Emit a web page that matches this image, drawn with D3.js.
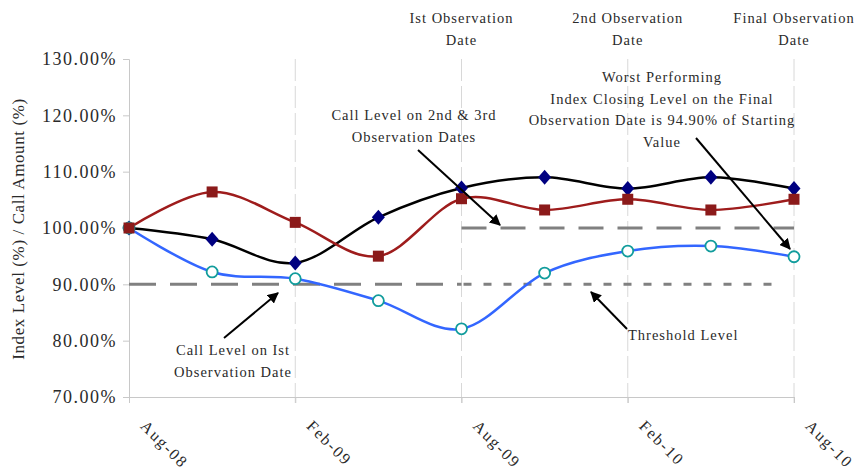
<!DOCTYPE html>
<html><head><meta charset="utf-8">
<script src="https://cdn.jsdelivr.net/npm/d3@7"></script>
<style>
html,body{margin:0;padding:0;background:#fff;}
svg{display:block;font-family:"Liberation Serif","Times New Roman",serif;}
</style></head>
<body><svg id="c" width="859" height="472"></svg>
<script>
const periods = ["Aug-08","Nov-08","Feb-09","May-09","Aug-09","Nov-09","Feb-10","May-10","Aug-10"];
const tickLabels = ["Aug-08","Feb-09","Aug-09","Feb-10","Aug-10"];
const yTicks = [70,80,90,100,110,120,130];
const indexA = [100,98,93.8,101.9,107.1,109,107,109,107];     // black / diamonds
const indexB = [100,106.4,101,95,105.2,103.2,105.1,103.2,105.1]; // red / squares
const indexC = [100,92.2,91,87.1,82.1,92,95.9,96.8,94.9];     // blue / circles
const threshold = 90;
const callLevel2 = 100;
const topLabels = [["Ist Observation","Date","Aug-09"],["2nd Observation","Date","Feb-10"],["Final Observation","Date","Aug-10"]];

const svg = d3.select("#c");
const x = d3.scalePoint().domain(periods).range([129,794]);
const y = d3.scaleLinear().domain([70,130]).range([397,59]);
const txt = "#2a2a2a";

// vertical gridlines
svg.append("g").selectAll("line").data(tickLabels.slice(1)).join("line")
  .attr("x1",d=>x(d)).attr("x2",d=>x(d)).attr("y1",y(130)).attr("y2",y(70)+6)
  .attr("stroke","#d8d8d8").attr("stroke-width",1).attr("stroke-dasharray","22,5");

// axes
const yAxis = svg.append("g").attr("transform",`translate(${x(periods[0])},0)`)
  .call(d3.axisLeft(y).tickValues(yTicks).tickSize(6).tickPadding(6).tickFormat(d=>d.toFixed(2)+"%"));
yAxis.select(".domain").attr("stroke","#c8c8c8");
yAxis.selectAll(".tick line").attr("stroke","#c8c8c8");
yAxis.selectAll("text").attr("font-size",18).attr("fill",txt).attr("letter-spacing","1.5px")
  .attr("font-family","Liberation Serif, serif");

const xAxis = svg.append("g").attr("transform",`translate(0,${y(70)})`)
  .call(d3.axisBottom(x).tickValues(tickLabels).tickSize(6).tickFormat(d=>d));
xAxis.select(".domain").attr("stroke","#c8c8c8");
xAxis.selectAll(".tick line").attr("stroke","#c8c8c8");
xAxis.selectAll("text").attr("font-size",16).attr("fill",txt).attr("letter-spacing","1.8px")
  .attr("font-family","Liberation Serif, serif")
  .attr("text-anchor","start").attr("dy",0).attr("y",0)
  .attr("transform","translate(10,30) rotate(45)");

// y title
svg.append("text").attr("transform",`translate(24,229) rotate(-90)`)
  .attr("text-anchor","middle").attr("font-size",17).attr("fill",txt).attr("letter-spacing","0.6px")
  .text("Index Level (%) / Call Amount (%)");

// dashed reference lines
svg.append("line").attr("x1",x("Aug-08")).attr("x2",x("Aug-09")).attr("y1",y(threshold)).attr("y2",y(threshold))
  .attr("stroke","#808080").attr("stroke-width",3).attr("stroke-dasharray","27,14");
svg.append("line").attr("x1",x("Aug-09")+2).attr("x2",782).attr("y1",y(threshold)).attr("y2",y(threshold))
  .attr("stroke","#808080").attr("stroke-width",3).attr("stroke-dasharray","8,12");
svg.append("line").attr("x1",x("Aug-09")).attr("x2",x("Aug-10")).attr("y1",y(callLevel2)).attr("y2",y(callLevel2))
  .attr("stroke","#808080").attr("stroke-width",3).attr("stroke-dasharray","25,14");

// series
const line = d3.line().x((d,i)=>x(periods[i])).y(d=>y(d)).curve(d3.curveCardinal.tension(0));
svg.append("path").datum(indexA).attr("d",line).attr("fill","none").attr("stroke","#000").attr("stroke-width",2.5);
svg.append("path").datum(indexC).attr("d",line).attr("fill","none").attr("stroke","#3366ff").attr("stroke-width",2.5);
svg.append("path").datum(indexB).attr("d",line).attr("fill","none").attr("stroke","#9e1c1c").attr("stroke-width",2.5);

svg.append("g").selectAll("path").data(indexA).join("path")
  .attr("transform",(d,i)=>`translate(${x(periods[i])},${y(d)})`)
  .attr("d","M0,-7.5L6.5,0L0,7.5L-6.5,0Z").attr("fill","#000080");
svg.append("g").selectAll("circle").data(indexC).join("circle")
  .attr("cx",(d,i)=>x(periods[i])).attr("cy",d=>y(d)).attr("r",5.5)
  .attr("fill","#fff").attr("stroke","#119c9c").attr("stroke-width",1.8);
svg.append("g").selectAll("rect").data(indexB).join("rect")
  .attr("x",(d,i)=>x(periods[i])-5.5).attr("y",d=>y(d)-5.5).attr("width",11).attr("height",11)
  .attr("fill","#8b1a1a");

// top labels
topLabels.forEach(t=>{
  const g = svg.append("text").attr("text-anchor","middle").attr("font-size",14.5).attr("fill",txt).attr("letter-spacing","1px");
  g.append("tspan").attr("x",x(t[2])).attr("y",23).text(t[0]);
  g.append("tspan").attr("x",x(t[2])).attr("y",45).text(t[1]);
});

// annotations
svg.append("defs").append("marker").attr("id","ah").attr("viewBox","0 0 10 10").attr("refX",9).attr("refY",5)
  .attr("markerWidth",5.5).attr("markerHeight",5.5).attr("orient","auto")
  .append("path").attr("d","M0,0L10,5L0,10Z").attr("fill","#000");
function arrow(x1,y1,x2,y2){
  svg.append("line").attr("x1",x1).attr("y1",y1).attr("x2",x2).attr("y2",y2)
    .attr("stroke","#000").attr("stroke-width",2).attr("marker-end","url(#ah)");
}
function note(lines,cx,y0,lh,anchor){
  const t = svg.append("text").attr("text-anchor",anchor||"middle").attr("font-size",14.5).attr("fill",txt).attr("letter-spacing","1px");
  lines.forEach((l,i)=>t.append("tspan").attr("x",cx).attr("y",y0+i*lh).text(l));
}
note(["Call Level on 2nd & 3rd","Observation Dates"],414,120,21.5);
arrow(418,150,500,225);
note(["Worst Performing","Index Closing Level on the Final","Observation Date is 94.90% of Starting","Value"],662,82,21.5);
arrow(696,138,790,249);
note(["Call Level on Ist","Observation Date"],233,355,22);
arrow(224,338,278,293);
note(["Threshold Level"],628,340,20,"start");
arrow(627,329,591,292);
</script></body></html>
